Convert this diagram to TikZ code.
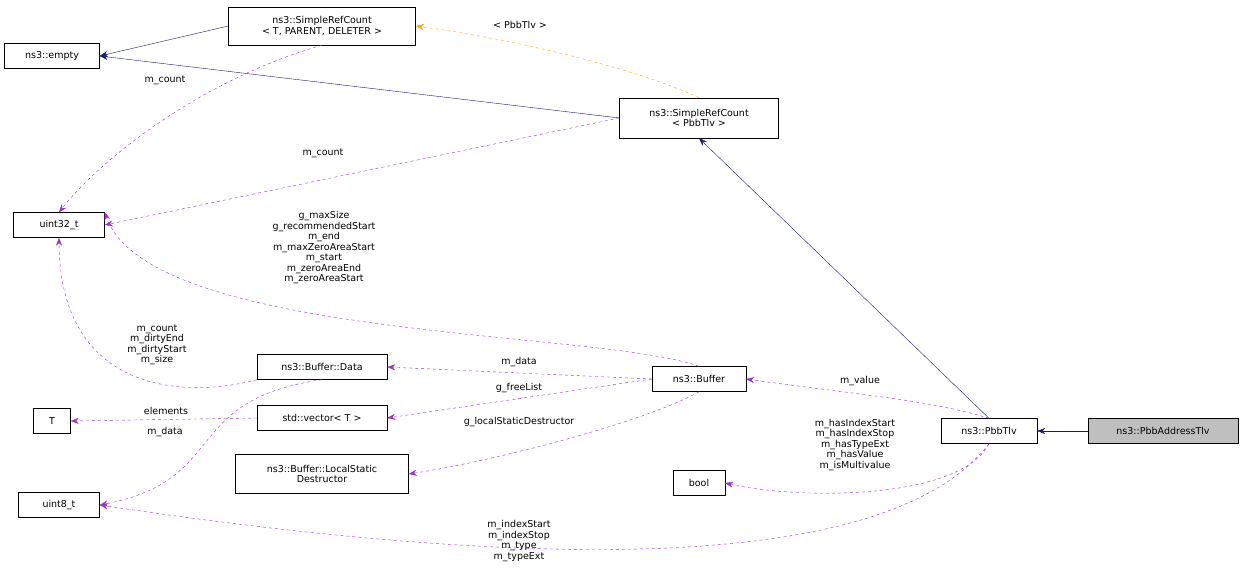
\documentclass[tikz,border=0pt]{standalone}
\usepackage{fontspec}
\setmainfont{DejaVu Sans}
\usetikzlibrary{arrows.meta}
\definecolor{navy}{RGB}{25,25,112}
\definecolor{purp}{RGB}{154,50,205}
\definecolor{orng}{RGB}{255,165,0}
\begin{document}
\begin{tikzpicture}[x=1pt,y=-1pt,font=\fontsize{9.5}{10.5}\selectfont,
 box/.style={draw,fill=white,inner sep=2pt,align=center,minimum height=25pt},
 inh/.style={navy,-{Stealth[length=8pt,width=6pt]}},
 use/.style={purp,dashed,-{Stealth[length=8pt,width=6pt]}},
 tmpl/.style={orng,dashed,-{Stealth[length=8pt,width=6pt]}},
 lab/.style={align=center,inner sep=0pt,font=\fontsize{9.5}{10.5}\selectfont}]
\useasboundingbox (0,0) rectangle (1243,581);
\node[box,minimum width=95pt] (empty) at (52,56) {ns3::empty};
\node[box,minimum width=187pt,minimum height=38pt] (srct) at (322,26) {ns3::SimpleRefCount\\< T, PARENT, DELETER >};
\node[box,minimum width=159pt,minimum height=40pt] (srcp) at (699,118) {ns3::SimpleRefCount\\< PbbTlv >};
\node[box,minimum width=91pt] (u32) at (59,225) {uint32\_t};
\node[box,minimum width=130pt] (data) at (322,367) {ns3::Buffer::Data};
\node[box,minimum width=94pt] (buf) at (699,379) {ns3::Buffer};
\node[box,minimum width=37pt] (T) at (52,421) {T};
\node[box,minimum width=130pt] (vec) at (322,418) {std::vector< T >};
\node[box,minimum width=173pt,minimum height=39pt] (lsd) at (322,474) {ns3::Buffer::LocalStatic\\Destructor};
\node[box,minimum width=81pt] (u8) at (59,505) {uint8\_t};
\node[box,minimum width=52pt] (bool) at (699,483) {bool};
\node[box,minimum width=96pt] (tlv) at (989,431) {ns3::PbbTlv};
\node[box,minimum width=150pt,fill=black!25] (atlv) at (1163,431) {ns3::PbbAddressTlv};

\draw[inh] (srct.west) -- (empty.east);
\draw[inh] (srcp.west) -- (empty.east);
\draw[tmpl] (srcp.north) .. controls (640,70) and (520,40) .. (srct.east);
\node[lab] (l1) at (520,25) {< PbbTlv >};
\draw[use] (srct.south) .. controls (200,80) and (100,160) .. (u32.north);
\node[lab] (l2) at (165,80) {m\_count};
\draw[use] (srcp.west) -- (u32.east);
\node[lab] (l3) at (323,153) {m\_count};
\draw[use] (buf.north) .. controls (600,330) and (150,340) .. (u32.north east);
\node[lab] (l4) at (324,248) {g\_maxSize\\g\_recommendedStart\\m\_end\\m\_maxZeroAreaStart\\m\_start\\m\_zeroAreaEnd\\m\_zeroAreaStart};
\draw[use] (data.south west) .. controls (180,400) and (60,390) .. (u32.south);
\node[lab] (l5) at (157,345) {m\_count\\m\_dirtyEnd\\m\_dirtyStart\\m\_size};
\draw[use] (data.south) .. controls (180,400) and (230,480) .. (u8.east);
\node[lab] (l6) at (165,432) {m\_data};
\draw[use] (buf.west) -- (data.east);
\node[lab] (l7) at (519,362) {m\_data};
\draw[use] (buf.west) -- (vec.east);
\node[lab] (l8) at (519,388) {g\_freeList};
\draw[use] (vec.west) -- (T.east);
\node[lab] (l9) at (166,411) {elements};
\draw[use] (buf.south) .. controls (650,420) and (500,460) .. (lsd.east);
\node[lab] (l10) at (519,422) {g\_localStaticDestructor};
\draw[use] (tlv.north) .. controls (930,400) and (860,395) .. (buf.east);
\node[lab] (l11) at (860,381) {m\_value};
\draw[use] (tlv.south) .. controls (960,500) and (800,500) .. (bool.east);
\node[lab] (l12) at (855,445) {m\_hasIndexStart\\m\_hasIndexStop\\m\_hasTypeExt\\m\_hasValue\\m\_isMultivalue};
\draw[use] (tlv.south) .. controls (900,560) and (600,580) .. (u8.east);
\node[lab] (l13) at (519,541) {m\_indexStart\\m\_indexStop\\m\_type\\m\_typeExt};
\draw[inh] (tlv.north) -- (srcp.south);
\draw[inh] (atlv.west) -- (tlv.east);
\end{tikzpicture}
\end{document}
